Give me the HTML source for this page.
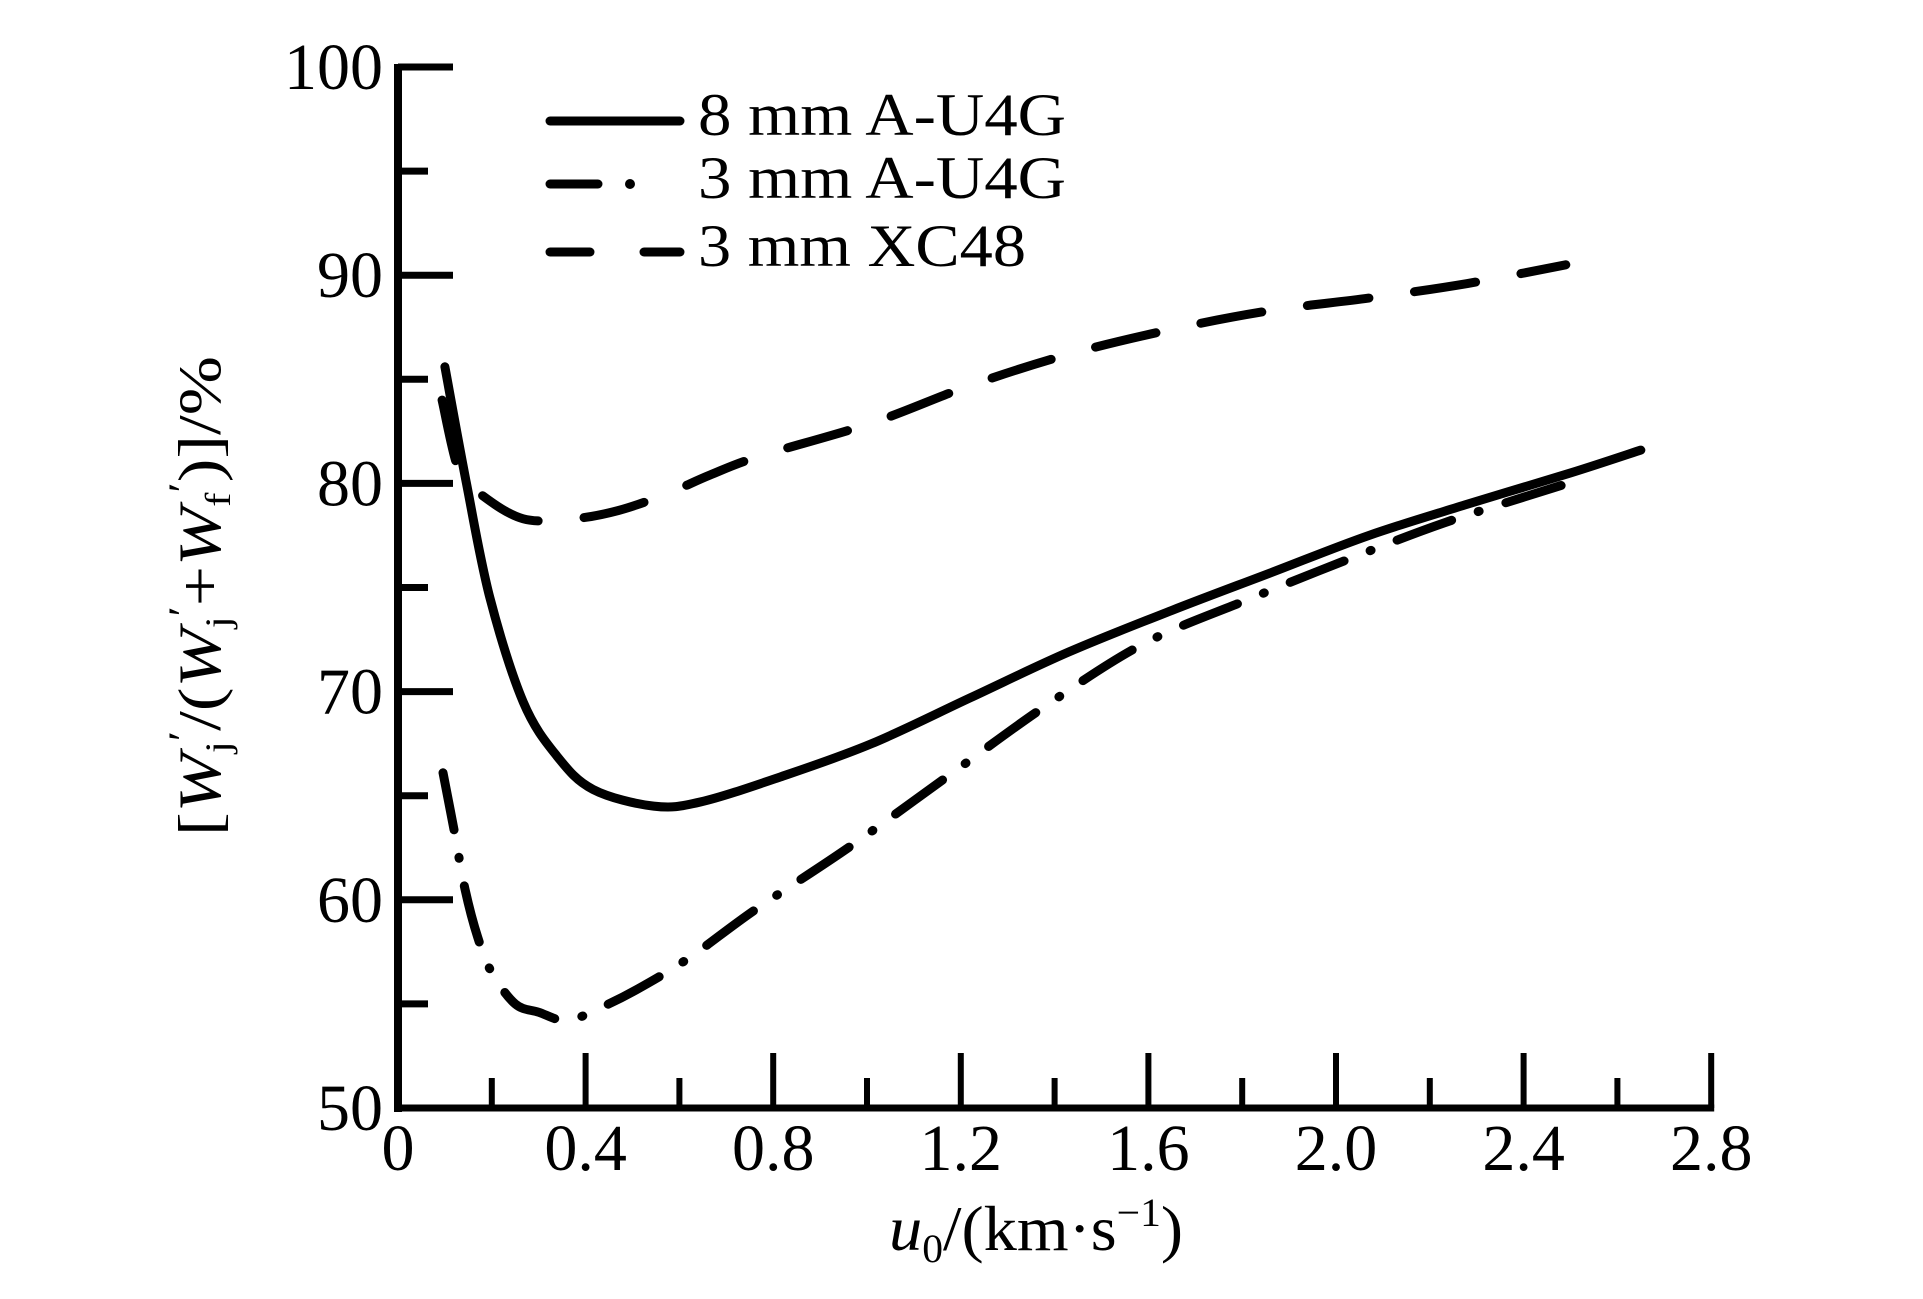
<!DOCTYPE html>
<html><head><meta charset="utf-8"><style>
html,body{margin:0;padding:0;background:#fff;}
svg{display:block;}
text{font-family:"Liberation Serif",serif;fill:#000;}
</style></head><body>
<svg id="chart" width="1923" height="1299" viewBox="0 0 1923 1299" xmlns="http://www.w3.org/2000/svg">
<g id="axes"></g>
<g id="series"></g>
<text transform="translate(220,596) rotate(-90)" text-anchor="middle" font-size="60" textLength="480" lengthAdjust="spacingAndGlyphs">[<tspan font-style="italic">W</tspan><tspan font-size="36" dy="10">j</tspan><tspan dy="-34" font-size="40">′</tspan><tspan dy="24">/(</tspan><tspan font-style="italic">W</tspan><tspan font-size="36" dy="10">j</tspan><tspan dy="-34" font-size="40">′</tspan><tspan dy="24">+</tspan><tspan font-style="italic">W</tspan><tspan font-size="36" dy="10">f</tspan><tspan dy="-34" font-size="40">′</tspan><tspan dy="24">)]/%</tspan></text>
<text x="1036" y="1250" text-anchor="middle" font-size="64" textLength="294" lengthAdjust="spacingAndGlyphs"><tspan font-style="italic">u</tspan><tspan font-size="40" dy="12">0</tspan><tspan dy="-12">/(km·s</tspan><tspan font-size="40" dy="-24">−1</tspan><tspan dy="24">)</tspan></text>
<g id="legend">
<line x1="550" y1="121" x2="680" y2="121" stroke="#000" stroke-width="9" stroke-linecap="round"/>
<text x="698" y="135" font-size="60" textLength="368" lengthAdjust="spacingAndGlyphs">8 mm A-U4G</text>
<line x1="550" y1="184" x2="598" y2="184" stroke="#000" stroke-width="9" stroke-linecap="round"/>
<circle cx="630" cy="184" r="5"/>
<text x="698" y="198" font-size="60" textLength="368" lengthAdjust="spacingAndGlyphs">3 mm A-U4G</text>
<line x1="550" y1="252" x2="590" y2="252" stroke="#000" stroke-width="9" stroke-linecap="round"/>
<line x1="644" y1="252" x2="680" y2="252" stroke="#000" stroke-width="9" stroke-linecap="round"/>
<text x="698" y="266" font-size="60" textLength="328" lengthAdjust="spacingAndGlyphs">3 mm XC48</text>
</g>
</svg>
<script>
const xTicks = [0, 0.4, 0.8, 1.2, 1.6, 2.0, 2.4, 2.8];
const xTickLabels = ["0", "0.4", "0.8", "1.2", "1.6", "2.0", "2.4", "2.8"];
const yTicks = [50, 60, 70, 80, 90, 100];
const yTickLabels = ["50", "60", "70", "80", "90", "100"];
const s8U = [0.10,0.146,0.196,0.267,0.339,0.416,0.545,0.645,0.815,1.01,1.22,1.43,1.65,1.86,2.07,2.28,2.50,2.65];
const s8W = [85.6,80.0,74.5,69.5,66.9,65.3,64.5,64.7,65.9,67.5,69.7,71.9,73.9,75.7,77.5,79.0,80.5,81.6];
const s3U = [0.096,0.12,0.143,0.17,0.20,0.25,0.30,0.36,0.43,0.51,0.62,0.76,0.96,1.17,1.38,1.59,1.81,2.02,2.23,2.48];
const s3W = [66.1,63.3,60.5,58.2,56.5,55.0,54.6,54.2,54.8,55.7,57.2,59.5,62.5,65.9,69.3,72.3,74.4,76.3,78.1,79.9];
const xcU = [0.094,0.13,0.175,0.267,0.373,0.47,0.573,0.665,0.77,1.01,1.22,1.43,1.65,1.86,2.07,2.28,2.49];
const xcW = [84.0,80.6,79.5,78.3,78.3,78.7,79.5,80.4,81.3,82.9,84.7,86.2,87.4,88.3,88.9,89.6,90.5];

const NS = "http://www.w3.org/2000/svg";
const X0 = 398, XPX = 469, Y50 = 1108, YPX = 20.82;
function sx(u){ return X0 + u * XPX; }
function sy(w){ return Y50 - (w - 50) * YPX; }
const axes = document.getElementById('axes');
function mk(tag, attrs, parent){ const e = document.createElementNS(NS, tag); for (const k in attrs) e.setAttribute(k, attrs[k]); parent.appendChild(e); return e; }

const yAxis = mk('line', {x1:X0, y1:sy(100)-3, x2:X0, y2:Y50+4, stroke:'#000','stroke-width':8}, axes);


const xAxis = mk('line', {x1:X0-4, y1:Y50, x2:sx(2.8)+3, y2:Y50, stroke:'#000','stroke-width':7}, axes);



for (let i = 1; i < 15; i++) {
  const u = i * 0.2;
  const len = (i % 2 === 0) ? 55 : 30;
  const t = mk('line', {x1:sx(u), y1:Y50, x2:sx(u), y2:Y50-len, stroke:'#000','stroke-width':6}, axes);
  
  
}
for (let i = 1; i <= 10; i++) {
  const w = 50 + i * 5;
  const len = (i % 2 === 0) ? 55 : 30;
  const t = mk('line', {x1:X0, y1:sy(w), x2:X0+len, y2:sy(w), stroke:'#000','stroke-width':7}, axes);
  
  
}
xTicks.forEach((u, i) => {
  const t = mk('text', {x:sx(u), y:1170, 'text-anchor':'middle', 'font-size':66}, axes);
  t.textContent = xTickLabels[i];
  
  
});
yTicks.forEach((w, i) => {
  const t = mk('text', {x:383, y:sy(w)+22, 'text-anchor':'end', 'font-size':66}, axes);
  t.textContent = yTickLabels[i];
  
  
});

function pathD(us, ws){
  const p = us.map((u, i) => [sx(u), sy(ws[i])]);
  let d = 'M' + p[0][0] + ',' + p[0][1];
  for (let i = 0; i < p.length - 1; i++) {
    const p0 = p[i-1] || p[i], p1 = p[i], p2 = p[i+1], p3 = p[i+2] || p2;
    const c1x = p1[0] + (p2[0]-p0[0])/6, c1y = p1[1] + (p2[1]-p0[1])/6;
    const c2x = p2[0] - (p3[0]-p1[0])/6, c2y = p2[1] - (p3[1]-p1[1])/6;
    d += ' C' + c1x + ',' + c1y + ' ' + c2x + ',' + c2y + ' ' + p2[0] + ',' + p2[1];
  }
  return d;
}
const series = document.getElementById('series');
const a = mk('path', {d:pathD(s8U, s8W), fill:'none', stroke:'#000','stroke-width':9,'stroke-linecap':'round'}, series);


const b = mk('path', {d:pathD(s3U, s3W), fill:'none', stroke:'#000','stroke-width':9,'stroke-linecap':'round','stroke-dasharray':'58 28 1 28'}, series);


const c = mk('path', {d:pathD(xcU, xcW), fill:'none', stroke:'#000','stroke-width':9,'stroke-linecap':'round','stroke-dasharray':'62 46'}, series);


</script>
</body></html>
